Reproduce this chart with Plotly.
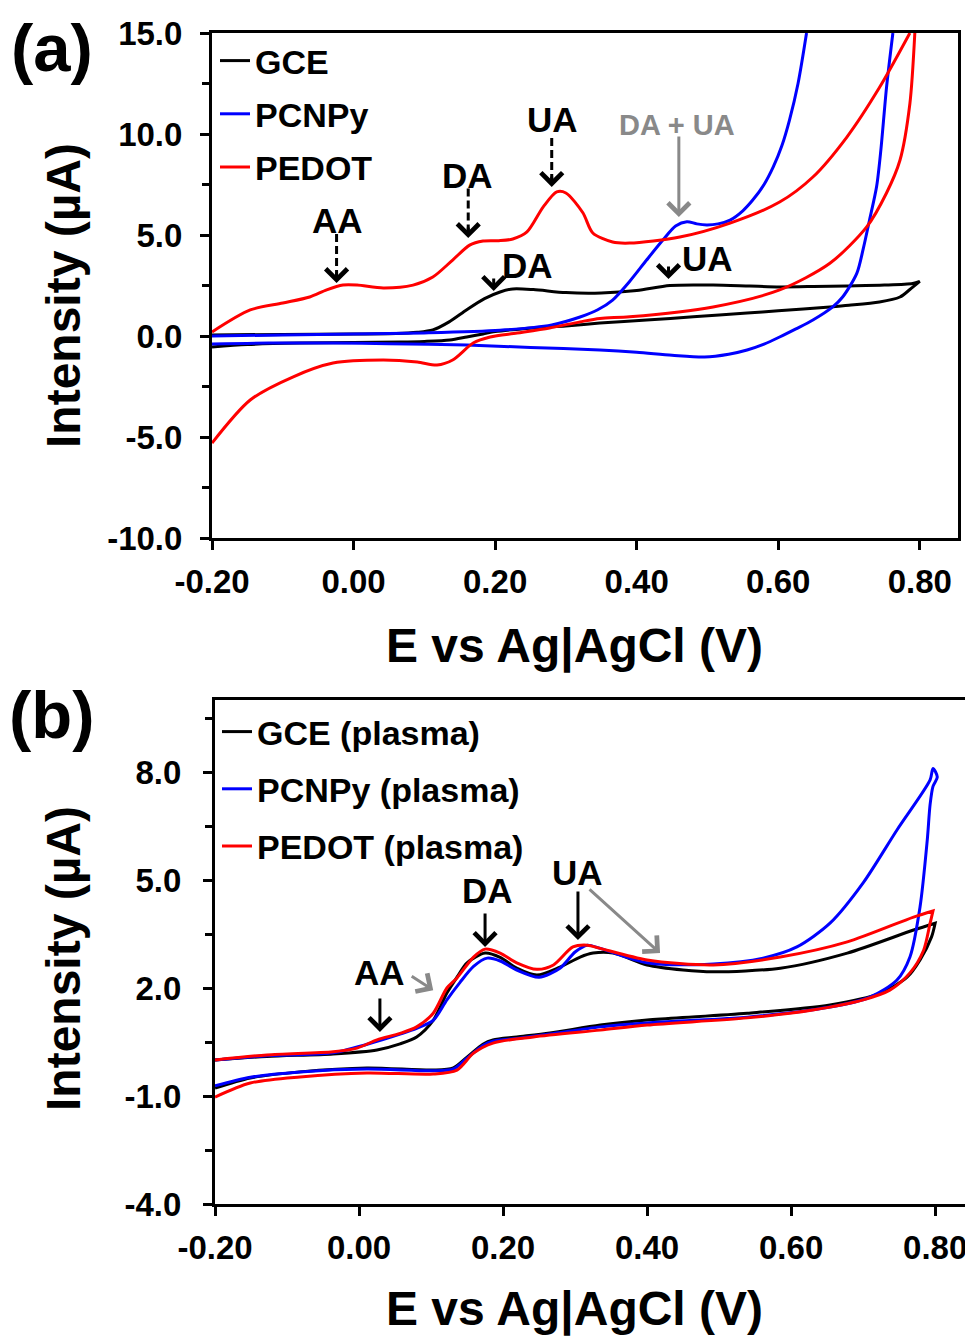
import plotly.graph_objects as go

# ---------------- Panel (a) data ----------------
a_gce_fwd_x = [-0.20, -0.10, 0.00, 0.06, 0.09, 0.112, 0.135, 0.16, 0.185, 0.207, 0.225, 0.254, 0.30, 0.35, 0.40, 0.447, 0.508, 0.56, 0.602, 0.65, 0.697, 0.75, 0.79, 0.80]
a_gce_fwd_y = [0.05, 0.08, 0.10, 0.12, 0.18, 0.30, 0.70, 1.30, 1.85, 2.18, 2.33, 2.30, 2.15, 2.13, 2.25, 2.50, 2.52, 2.47, 2.43, 2.45, 2.48, 2.52, 2.60, 2.70]
a_gce_rev_x = [0.80, 0.786, 0.772, 0.743, 0.70, 0.673, 0.60, 0.556, 0.48, 0.414, 0.348, 0.30, 0.254, 0.20, 0.183, 0.16, 0.136, 0.10, 0.066, 0.00, -0.076, -0.15, -0.20]
a_gce_rev_y = [2.70, 2.30, 1.93, 1.68, 1.52, 1.44, 1.25, 1.14, 0.95, 0.79, 0.64, 0.50, 0.40, 0.22, 0.10, -0.05, -0.20, -0.27, -0.30, -0.32, -0.35, -0.42, -0.54]

a_pcnpy_fwd_x = [-0.20, -0.10, 0.00, 0.10, 0.207, 0.28, 0.32, 0.345, 0.366, 0.39, 0.414, 0.437, 0.455, 0.471, 0.485, 0.499, 0.515, 0.532, 0.55, 0.564, 0.58, 0.593, 0.605, 0.616, 0.628, 0.64]
a_pcnpy_fwd_y = [0.00, 0.05, 0.10, 0.15, 0.28, 0.55, 0.94, 1.30, 1.78, 2.70, 3.76, 4.75, 5.45, 5.66, 5.55, 5.50, 5.55, 5.74, 6.20, 6.73, 7.50, 8.37, 9.40, 10.7, 12.5, 15.0]
a_pcnpy_rev_x = [0.762, 0.753, 0.745, 0.739, 0.729, 0.72, 0.711, 0.691, 0.677, 0.649, 0.625, 0.602, 0.58, 0.556, 0.53, 0.496, 0.45, 0.40, 0.348, 0.25, 0.16, 0.05, -0.029, -0.12, -0.20]
a_pcnpy_rev_y = [15.0, 12.3, 9.2, 7.4, 5.74, 4.3, 3.1, 1.93, 1.44, 0.79, 0.35, -0.05, -0.40, -0.69, -0.90, -1.04, -0.95, -0.80, -0.69, -0.57, -0.45, -0.38, -0.35, -0.35, -0.40]

a_pedot_fwd_x = [-0.20, -0.146, -0.10, -0.062, -0.038, -0.015, 0.005, 0.042, 0.084, 0.112, 0.14, 0.164, 0.183, 0.205, 0.225, 0.245, 0.268, 0.287, 0.30, 0.324, 0.338, 0.366, 0.39, 0.461, 0.532, 0.602, 0.649, 0.697, 0.743, 0.786]
a_pedot_fwd_y = [0.20, 1.29, 1.63, 1.93, 2.28, 2.52, 2.52, 2.38, 2.52, 2.92, 3.76, 4.50, 4.70, 4.72, 4.80, 5.15, 6.39, 7.13, 7.08, 6.10, 5.10, 4.65, 4.60, 4.90, 5.59, 6.63, 7.87, 9.85, 12.3, 15.0]
a_pedot_rev_x = [0.793, 0.786, 0.772, 0.753, 0.725, 0.673, 0.602, 0.508, 0.39, 0.348, 0.32, 0.277, 0.231, 0.193, 0.169, 0.14, 0.118, 0.09, 0.042, -0.029, -0.086, -0.146, -0.20]
a_pedot_rev_y = [15.0, 11.5, 8.7, 7.08, 5.40, 3.60, 2.28, 1.44, 0.95, 0.87, 0.70, 0.40, 0.15, -0.05, -0.35, -1.19, -1.44, -1.29, -1.19, -1.34, -2.03, -3.17, -5.30]

# ---------------- Panel (b) data ----------------
b_gce_fwd_x = [-0.20, -0.128, -0.036, 0.025, 0.057, 0.08, 0.103, 0.122, 0.136, 0.15, 0.175, 0.196, 0.219, 0.247, 0.279, 0.307, 0.325, 0.353, 0.40, 0.45, 0.492, 0.585, 0.678, 0.77, 0.80]
b_gce_fwd_y = [0.00, 0.10, 0.17, 0.28, 0.45, 0.64, 1.10, 1.86, 2.30, 2.70, 2.97, 2.85, 2.55, 2.36, 2.58, 2.86, 2.97, 2.97, 2.64, 2.50, 2.45, 2.55, 2.97, 3.61, 3.80]
b_gce_rev_x = [0.80, 0.795, 0.779, 0.761, 0.724, 0.654, 0.539, 0.40, 0.335, 0.265, 0.219, 0.186, 0.172, 0.15, 0.131, 0.103, 0.011, -0.082, -0.151, -0.20]
b_gce_rev_y = [3.80, 3.42, 2.78, 2.30, 1.86, 1.53, 1.30, 1.11, 0.97, 0.75, 0.64, 0.56, 0.44, 0.08, -0.22, -0.28, -0.22, -0.33, -0.50, -0.78]

b_pcnpy_fwd_x = [-0.20, -0.128, -0.036, 0.025, 0.057, 0.08, 0.103, 0.122, 0.14, 0.159, 0.178, 0.196, 0.219, 0.25, 0.279, 0.30, 0.317, 0.335, 0.40, 0.492, 0.561, 0.608, 0.654, 0.70, 0.747, 0.793, 0.797, 0.803]
b_pcnpy_fwd_y = [0.00, 0.12, 0.20, 0.52, 0.72, 0.88, 1.10, 1.67, 2.15, 2.60, 2.83, 2.75, 2.50, 2.30, 2.55, 3.00, 3.19, 3.10, 2.70, 2.67, 2.83, 3.14, 3.80, 4.92, 6.39, 7.78, 8.10, 7.86]
b_pcnpy_rev_x = [0.797, 0.793, 0.789, 0.779, 0.765, 0.747, 0.71, 0.654, 0.539, 0.40, 0.335, 0.265, 0.219, 0.186, 0.172, 0.15, 0.131, 0.103, 0.011, -0.082, -0.151, -0.20]
b_pcnpy_rev_y = [7.60, 7.10, 6.10, 4.25, 2.86, 2.22, 1.75, 1.47, 1.19, 1.03, 0.92, 0.72, 0.60, 0.52, 0.40, 0.05, -0.25, -0.30, -0.25, -0.33, -0.48, -0.72]

b_pedot_fwd_x = [-0.20, -0.128, -0.036, -0.003, 0.025, 0.057, 0.08, 0.103, 0.122, 0.136, 0.159, 0.175, 0.196, 0.219, 0.247, 0.27, 0.297, 0.317, 0.335, 0.40, 0.492, 0.585, 0.678, 0.77, 0.797]
b_pedot_fwd_y = [0.00, 0.14, 0.23, 0.33, 0.56, 0.74, 0.92, 1.30, 2.00, 2.28, 2.86, 3.08, 2.97, 2.70, 2.52, 2.64, 3.14, 3.19, 3.10, 2.78, 2.64, 2.86, 3.28, 3.97, 4.14]
b_pedot_rev_x = [0.797, 0.793, 0.784, 0.765, 0.737, 0.70, 0.63, 0.539, 0.40, 0.335, 0.242, 0.186, 0.159, 0.136, 0.103, 0.011, -0.082, -0.151, -0.20]
b_pedot_rev_y = [4.14, 3.80, 3.05, 2.42, 1.94, 1.67, 1.39, 1.17, 0.97, 0.83, 0.64, 0.47, 0.19, -0.28, -0.39, -0.36, -0.47, -0.64, -1.03]

# ---------------- Tick labels / texts ----------------
x_tickvals = [-0.2, 0.0, 0.2, 0.4, 0.6, 0.8]
x_ticktext = ["-0.20", "0.00", "0.20", "0.40", "0.60", "0.80"]
a_y_tickvals = [-10, -5, 0, 5, 10, 15]
a_y_ticktext = ["-10.0", "-5.0", "0.0", "5.0", "10.0", "15.0"]
b_y_tickvals = [-4, -1, 2, 5, 8]
b_y_ticktext = ["-4.0", "-1.0", "2.0", "5.0", "8.0"]
x_title = "E vs Ag|AgCl (V)"
y_title = "Intensity (µA)"

a_names = ["GCE", "PCNPy", "PEDOT"]
b_names = ["GCE (plasma)", "PCNPy (plasma)", "PEDOT (plasma)"]
colors = ["#000000", "#0000FF", "#FF0000"]
gray = "#898989"

FONT = "Liberation Sans, Arial, sans-serif"
W, H = 973, 1340
OFF = 8  # page body margin offset


def px(v):
    return (v - OFF) / W


def py(v):
    return 1 - (v - OFF) / H


fig = go.Figure()


def loop(fx, fy, rx, ry, gap=False):
    if gap:
        return fx + [None] + rx, fy + [None] + ry
    return fx + rx, fy + ry


a_sets = [
    loop(a_gce_fwd_x, a_gce_fwd_y, a_gce_rev_x, a_gce_rev_y),
    loop(a_pcnpy_fwd_x, a_pcnpy_fwd_y, a_pcnpy_rev_x, a_pcnpy_rev_y, gap=True),
    loop(a_pedot_fwd_x, a_pedot_fwd_y, a_pedot_rev_x, a_pedot_rev_y, gap=True),
]
b_sets = [
    loop(b_gce_fwd_x, b_gce_fwd_y, b_gce_rev_x, b_gce_rev_y),
    loop(b_pcnpy_fwd_x, b_pcnpy_fwd_y, b_pcnpy_rev_x, b_pcnpy_rev_y),
    loop(b_pedot_fwd_x, b_pedot_fwd_y, b_pedot_rev_x, b_pedot_rev_y),
]

for i, (xs, ys) in enumerate(a_sets):
    fig.add_trace(go.Scatter(x=xs, y=ys, mode="lines", name=a_names[i],
                             line=dict(color=colors[i], width=3, shape="spline", smoothing=0.8),
                             xaxis="x", yaxis="y", legend="legend", legendgroup="a%d" % i,
                             connectgaps=False))
for i, (xs, ys) in enumerate(b_sets):
    fig.add_trace(go.Scatter(x=xs, y=ys, mode="lines", name=b_names[i],
                             line=dict(color=colors[i], width=3, shape="spline", smoothing=0.8),
                             xaxis="x2", yaxis="y2", legend="legend2", legendgroup="b%d" % i))

axis_common = dict(showline=True, linecolor="black", linewidth=3, mirror=True,
                   showgrid=False, zeroline=False, ticks="outside", ticklen=9,
                   tickwidth=3, tickcolor="black", automargin=False,
                   tickfont=dict(family=FONT, size=33, color="black", weight="bold"))

title_font = dict(family=FONT, size=48, color="black", weight="bold")
legend_font = dict(family=FONT, size=34, color="black", weight="bold")

fig.update_layout(
    template="none",
    width=W, height=H,
    margin=dict(l=0, r=0, t=0, b=0, autoexpand=False),
    paper_bgcolor="white", plot_bgcolor="white",
    font=dict(family=FONT, color="black", weight="bold"),
    showlegend=True,
    xaxis=dict(domain=[px(212), px(958)], range=[-0.2, 0.854], anchor="y",
               tickmode="array", tickvals=x_tickvals, ticktext=x_ticktext,
               ticklabelstandoff=3, **axis_common),
    yaxis=dict(domain=[py(538), py(33)], range=[-10, 15], anchor="x",
               tickmode="array", tickvals=a_y_tickvals, ticktext=a_y_ticktext,
               ticklabelstandoff=11,
               minor=dict(tickmode="linear", tick0=-10, dtick=2.5, ticks="outside",
                          ticklen=7, tickwidth=3, tickcolor="black", showgrid=False),
               **axis_common),
    xaxis2=dict(domain=[px(215), px(969)], range=[-0.2, 0.847], anchor="y2",
                tickmode="array", tickvals=x_tickvals, ticktext=x_ticktext,
                ticklabelstandoff=3, **axis_common),
    yaxis2=dict(domain=[py(1204), py(700)], range=[-4, 10], anchor="x2",
                tickmode="array", tickvals=b_y_tickvals, ticktext=b_y_ticktext,
                ticklabelstandoff=15,
                minor=dict(tickmode="linear", tick0=-4, dtick=1.5, ticks="outside",
                           ticklen=7, tickwidth=3, tickcolor="black", showgrid=False),
                **axis_common),
    legend=dict(x=px(215), y=py(32), xanchor="left", yanchor="top",
                bgcolor="rgba(0,0,0,0)", tracegroupgap=6, itemwidth=30,
                font=legend_font),
    legend2=dict(x=px(217), y=py(703), xanchor="left", yanchor="top",
                 bgcolor="rgba(0,0,0,0)", tracegroupgap=10, itemwidth=30,
                 font=legend_font),
)

ann = []
shapes = []


def label(x, y, text, xr, yr, size=35, color="black"):
    ann.append(dict(x=x, y=y, xref=xr, yref=yr, text=text, showarrow=False,
                    font=dict(family=FONT, size=size, color=color, weight="bold"),
                    xanchor="center", yanchor="middle"))


def arrow(x, y, ax, ay, xr, yr, color="black", size=1.4):
    ann.append(dict(x=x, y=y, xref=xr, yref=yr, text="", showarrow=True,
                    ax=ax, ay=ay, arrowhead=4, arrowsize=size, arrowwidth=3,
                    arrowcolor=color))


def dashed(x, y0, y1, xr, yr):
    shapes.append(dict(type="line", x0=x, x1=x, y0=y0, y1=y1, xref=xr, yref=yr,
                       line=dict(color="black", width=3, dash="8px,4px")))


# Panel (a) labels
label(-0.022, 5.74, "AA", "x", "y")
dashed(-0.024, 5.05, 3.0, "x", "y")
arrow(-0.024, 2.62, 0, -12, "x", "y")
label(0.1616, 7.97, "DA", "x", "y")
dashed(0.162, 7.3, 5.2, "x", "y")
arrow(0.162, 4.85, 0, -12, "x", "y")
label(0.2816, 10.7, "UA", "x", "y")
dashed(0.28, 9.8, 7.75, "x", "y")
arrow(0.28, 7.38, 0, -12, "x", "y")
label(0.246, 3.51, "DA", "x", "y")
arrow(0.198, 2.23, 0, -14, "x", "y")
label(0.5006, 3.86, "UA", "x", "y")
arrow(0.445, 2.82, 0, -14, "x", "y")
label(0.457, 10.45, "DA + UA", "x", "y", size=29, color=gray)
arrow(0.4596, 5.89, 0, -82, "x", "y", color=gray)

# Panel (b) labels
label(0.029, 2.42, "AA", "x2", "y2")
arrow(0.029, 0.78, 0, -35, "x2", "y2")
arrow(0.103, 1.94, -23, -15, "x2", "y2", color=gray)
label(0.178, 4.72, "DA", "x2", "y2")
arrow(0.175, 3.14, 0, -35, "x2", "y2")
label(0.303, 5.22, "UA", "x2", "y2")
arrow(0.304, 3.33, 0, -50, "x2", "y2")
arrow(0.418, 2.97, -72, -65, "x2", "y2", color=gray)

# Axis titles (placed as in the reference)
for (cx, cy, txt, ang) in [(574, 646, x_title, 0), (574, 1309, x_title, 0),
                           (63, 296, y_title, -90), (63, 959, y_title, -90)]:
    ann.append(dict(x=px(cx), y=py(cy), xref="paper", yref="paper", text=txt,
                    showarrow=False, xanchor="center", yanchor="middle",
                    textangle=ang, font=title_font))

# Panel letters
for txt, yy in [("(a)", 8), ("(b)", 675)]:
    ann.append(dict(x=px(52), y=py(yy), xref="paper", yref="paper", text=txt,
                    showarrow=False, xanchor="center", yanchor="top",
                    font=dict(family=FONT, size=67, color="black", weight="bold")))

fig.update_layout(annotations=ann, shapes=shapes)

fig.write_html("out.html")
